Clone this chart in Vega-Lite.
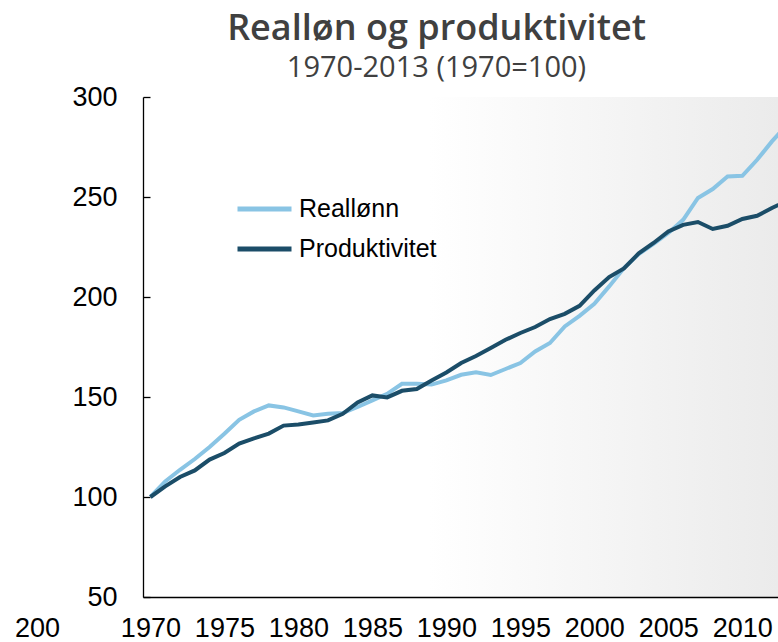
{
  "$schema": "https://vega.github.io/schema/vega-lite/v6.json",
  "autosize": "none",
  "padding": {"left": 143, "top": 97, "right": 0, "bottom": 45},
  "width": 635,
  "height": 500,
  "background": "white",
  "view": {
    "stroke": null,
    "fill": {
      "gradient": "linear",
      "x1": 0, "y1": 0, "x2": 1, "y2": 0,
      "stops": [
        {"offset": 0, "color": "#ffffff"},
        {"offset": 0.45, "color": "#ffffff"},
        {"offset": 1, "color": "#ebebeb"}
      ]
    }
  },
  "title": {
    "text": "Realløn og produktivitet",
    "subtitle": "1970-2013 (1970=100)",
    "anchor": "middle",
    "dx": -24,
    "offset": -1,
    "font": "Open Sans",
    "fontSize": 36,
    "fontWeight": 600,
    "color": "#404040",
    "subtitleFont": "Open Sans",
    "subtitleFontSize": 29,
    "subtitleColor": "#404040",
    "subtitlePadding": 6
  },
  "data": {
    "values": [
      {"year": 1970, "serie": "Reallønn", "value": 100},
      {"year": 1971, "serie": "Reallønn", "value": 107.8},
      {"year": 1972, "serie": "Reallønn", "value": 113.6},
      {"year": 1973, "serie": "Reallønn", "value": 119},
      {"year": 1974, "serie": "Reallønn", "value": 125},
      {"year": 1975, "serie": "Reallønn", "value": 131.6},
      {"year": 1976, "serie": "Reallønn", "value": 138.6},
      {"year": 1977, "serie": "Reallønn", "value": 142.8},
      {"year": 1978, "serie": "Reallønn", "value": 145.8},
      {"year": 1979, "serie": "Reallønn", "value": 144.8},
      {"year": 1980, "serie": "Reallønn", "value": 142.8},
      {"year": 1981, "serie": "Reallønn", "value": 140.8},
      {"year": 1982, "serie": "Reallønn", "value": 141.6},
      {"year": 1983, "serie": "Reallønn", "value": 142},
      {"year": 1984, "serie": "Reallønn", "value": 145},
      {"year": 1985, "serie": "Reallønn", "value": 148.3},
      {"year": 1986, "serie": "Reallønn", "value": 151.6},
      {"year": 1987, "serie": "Reallønn", "value": 156.6},
      {"year": 1988, "serie": "Reallønn", "value": 156.6},
      {"year": 1989, "serie": "Reallønn", "value": 156.2},
      {"year": 1990, "serie": "Reallønn", "value": 158.3},
      {"year": 1991, "serie": "Reallønn", "value": 161.1},
      {"year": 1992, "serie": "Reallønn", "value": 162.3},
      {"year": 1993, "serie": "Reallønn", "value": 161},
      {"year": 1994, "serie": "Reallønn", "value": 164},
      {"year": 1995, "serie": "Reallønn", "value": 167},
      {"year": 1996, "serie": "Reallønn", "value": 172.8},
      {"year": 1997, "serie": "Reallønn", "value": 177},
      {"year": 1998, "serie": "Reallønn", "value": 185.3},
      {"year": 1999, "serie": "Reallønn", "value": 190.6},
      {"year": 2000, "serie": "Reallønn", "value": 196.6},
      {"year": 2001, "serie": "Reallønn", "value": 205.3},
      {"year": 2002, "serie": "Reallønn", "value": 214.5},
      {"year": 2003, "serie": "Reallønn", "value": 221.5},
      {"year": 2004, "serie": "Reallønn", "value": 226.6},
      {"year": 2005, "serie": "Reallønn", "value": 232},
      {"year": 2006, "serie": "Reallønn", "value": 238.6},
      {"year": 2007, "serie": "Reallønn", "value": 249.5},
      {"year": 2008, "serie": "Reallønn", "value": 254},
      {"year": 2009, "serie": "Reallønn", "value": 260.3},
      {"year": 2010, "serie": "Reallønn", "value": 260.6},
      {"year": 2011, "serie": "Reallønn", "value": 268.6},
      {"year": 2012, "serie": "Reallønn", "value": 277.8},
      {"year": 2013, "serie": "Reallønn", "value": 286},
      {"year": 1970, "serie": "Produktivitet", "value": 100},
      {"year": 1971, "serie": "Produktivitet", "value": 105.3},
      {"year": 1972, "serie": "Produktivitet", "value": 110},
      {"year": 1973, "serie": "Produktivitet", "value": 113.3},
      {"year": 1974, "serie": "Produktivitet", "value": 118.7},
      {"year": 1975, "serie": "Produktivitet", "value": 122},
      {"year": 1976, "serie": "Produktivitet", "value": 126.7},
      {"year": 1977, "serie": "Produktivitet", "value": 129.3},
      {"year": 1978, "serie": "Produktivitet", "value": 131.7},
      {"year": 1979, "serie": "Produktivitet", "value": 135.7},
      {"year": 1980, "serie": "Produktivitet", "value": 136.2},
      {"year": 1981, "serie": "Produktivitet", "value": 137.2},
      {"year": 1982, "serie": "Produktivitet", "value": 138.3},
      {"year": 1983, "serie": "Produktivitet", "value": 141.6},
      {"year": 1984, "serie": "Produktivitet", "value": 147.3},
      {"year": 1985, "serie": "Produktivitet", "value": 150.8},
      {"year": 1986, "serie": "Produktivitet", "value": 149.8},
      {"year": 1987, "serie": "Produktivitet", "value": 153.1},
      {"year": 1988, "serie": "Produktivitet", "value": 154},
      {"year": 1989, "serie": "Produktivitet", "value": 158.3},
      {"year": 1990, "serie": "Produktivitet", "value": 162.3},
      {"year": 1991, "serie": "Produktivitet", "value": 167},
      {"year": 1992, "serie": "Produktivitet", "value": 170.5},
      {"year": 1993, "serie": "Produktivitet", "value": 174.5},
      {"year": 1994, "serie": "Produktivitet", "value": 178.6},
      {"year": 1995, "serie": "Produktivitet", "value": 182},
      {"year": 1996, "serie": "Produktivitet", "value": 185},
      {"year": 1997, "serie": "Produktivitet", "value": 189},
      {"year": 1998, "serie": "Produktivitet", "value": 191.6},
      {"year": 1999, "serie": "Produktivitet", "value": 195.6},
      {"year": 2000, "serie": "Produktivitet", "value": 203.3},
      {"year": 2001, "serie": "Produktivitet", "value": 210},
      {"year": 2002, "serie": "Produktivitet", "value": 214.3},
      {"year": 2003, "serie": "Produktivitet", "value": 221.8},
      {"year": 2004, "serie": "Produktivitet", "value": 227},
      {"year": 2005, "serie": "Produktivitet", "value": 232.8},
      {"year": 2006, "serie": "Produktivitet", "value": 236.1},
      {"year": 2007, "serie": "Produktivitet", "value": 237.5},
      {"year": 2008, "serie": "Produktivitet", "value": 234},
      {"year": 2009, "serie": "Produktivitet", "value": 235.6},
      {"year": 2010, "serie": "Produktivitet", "value": 239},
      {"year": 2011, "serie": "Produktivitet", "value": 240.6},
      {"year": 2012, "serie": "Produktivitet", "value": 244.5},
      {"year": 2013, "serie": "Produktivitet", "value": 248}
    ]
  },
  "mark": {"type": "line", "strokeWidth": 4, "clip": true},
  "encoding": {
    "x": {
      "field": "year",
      "type": "quantitative",
      "scale": {"domain": [1969.5, 2012.41], "nice": false, "zero": false},
      "axis": {
        "title": null,
        "values": [1970, 1975, 1980, 1985, 1990, 1995, 2000, 2005, 2010],
        "format": "d",
        "grid": false,
        "ticks": false,
        "domainColor": "#000000",
        "domainWidth": 1.3,
        "labelFont": "Liberation Sans",
        "labelFontSize": 27,
        "labelColor": "#000000",
        "labelPadding": 18,
        "labelFlush": false,
        "labelOverlap": false
      }
    },
    "y": {
      "field": "value",
      "type": "quantitative",
      "scale": {"domain": [50, 300], "nice": false, "zero": false},
      "axis": {
        "title": "200",
        "titleAngle": 0,
        "titleX": -106,
        "titleY": 531,
        "titleAlign": "center",
        "titleBaseline": "middle",
        "titleFont": "Liberation Sans",
        "titleFontSize": 27,
        "titleFontWeight": "normal",
        "titleColor": "#000000",
        "values": [50, 100, 150, 200, 250, 300],
        "grid": false,
        "tickSize": -7,
        "tickColor": "#000000",
        "tickWidth": 1.3,
        "domainColor": "#000000",
        "domainWidth": 1.3,
        "labelFont": "Liberation Sans",
        "labelFontSize": 27,
        "labelColor": "#000000",
        "labelPadding": 33
      }
    },
    "color": {
      "field": "serie",
      "type": "nominal",
      "scale": {"domain": ["Reallønn", "Produktivitet"], "range": ["#89c4e4", "#1b4d68"]},
      "legend": {
        "title": null,
        "orient": "none",
        "legendX": 92,
        "legendY": 92,
        "padding": 0,
        "symbolType": "stroke",
        "symbolSize": 2916,
        "symbolStrokeWidth": 5,
        "clipHeight": 40,
        "labelFont": "Liberation Sans",
        "labelFontSize": 25,
        "labelColor": "#000000",
        "labelOffset": 5,
        "rowPadding": 0
      }
    }
  }
}
